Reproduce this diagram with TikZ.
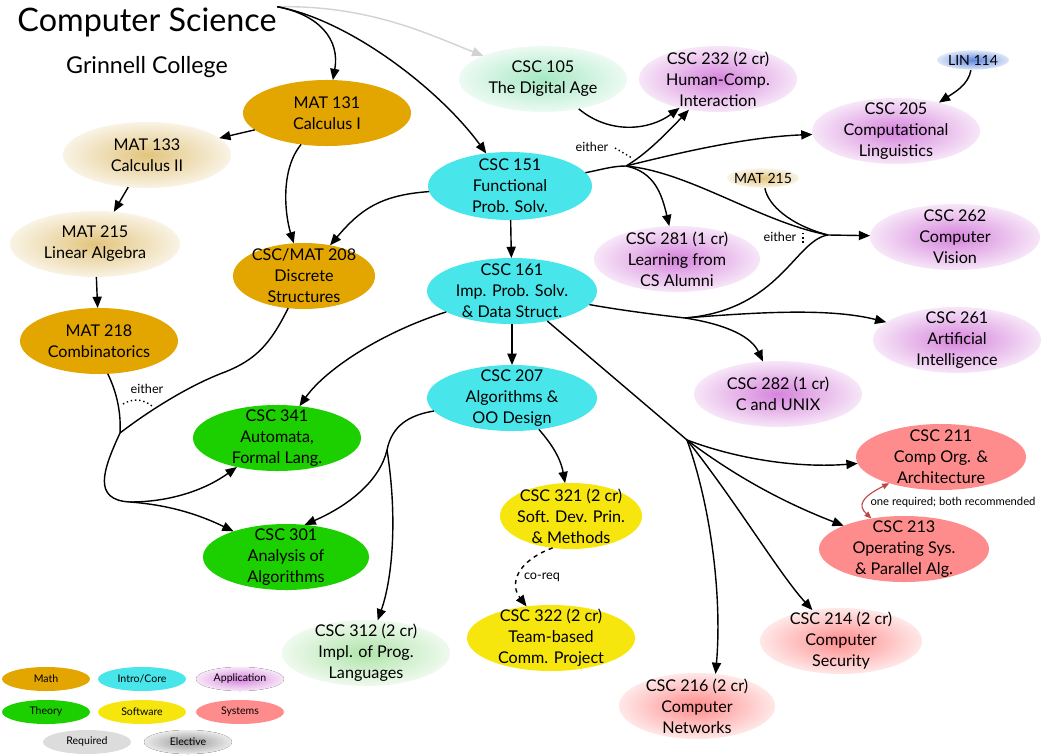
\documentclass[tikz,border=0pt]{standalone}
\usepackage{fontspec}
\setmainfont{Lato}
\usetikzlibrary{shapes.geometric,arrows.meta}

\definecolor{mathc}{RGB}{227,165,0}
\definecolor{introc}{RGB}{72,230,234}
\definecolor{appc}{RGB}{214,132,220}
\definecolor{theoc}{RGB}{28,208,0}
\definecolor{softc}{RGB}{246,230,14}
\definecolor{sysc}{RGB}{255,140,140}
\definecolor{mathe}{RGB}{226,196,125}
\definecolor{digc}{RGB}{165,232,195}
\definecolor{theoe}{RGB}{175,228,170}
\definecolor{linc}{RGB}{95,135,220}
\definecolor{reqc}{RGB}{220,220,220}
\definecolor{elecc}{RGB}{150,150,150}
\definecolor{pairc}{RGB}{190,70,70}

\makeatletter
\pgfdeclareradialshading[tikz@radial@inner,tikz@radial@outer]{elect}{\pgfpoint{0bp}{0bp}}{%
  color(0bp)=(tikz@radial@inner); color(25bp)=(tikz@radial@outer); color(50bp)=(tikz@radial@outer)}
\makeatother

\newcommand\coursefont{\fontsize{11.5}{14.9}\selectfont}
\newcommand\notefont{\fontsize{9}{10}\selectfont}
\newcommand\keyfont{\fontsize{7.5}{9}\selectfont}
\newcommand\smallfont{\fontsize{10}{12}\selectfont}

\begin{document}
\begin{tikzpicture}[x=0.025cm, y=-0.025cm, line width=1pt,
    >={Triangle[length=8pt,width=6.5pt]},
    course/.style={ellipse, inner xsep=-8pt, inner ysep=-8pt, outer sep=0pt,
      minimum width=4.2cm, minimum height=1.65cm, align=center, font=\coursefont},
    req/.style={course, fill=#1},
    elec/.style={course, inner color=#1, outer color=#1!20!white, shading=elect},
    tiny/.style={ellipse, inner xsep=-3pt, inner ysep=-2pt, minimum width=1.8cm,
      minimum height=0.48cm, font=\smallfont, inner color=#1, outer color=#1!20!white, shading=elect},
    key/.style={ellipse, inner sep=0pt, minimum width=2.2cm, minimum height=0.6cm,
      font=\keyfont, fill=#1},
    keyel/.style={key, inner color=#1, outer color=#1!20!white, shading=elect},
    note/.style={font=\notefont, inner sep=1pt}]

  \useasboundingbox (0,0) rectangle (1043,755);

  % titles
  \node[font=\fontsize{23}{27}\selectfont, inner sep=0pt] (title) at (147,22) {Computer Science};
  \node[font=\fontsize{16.5}{20}\selectfont] (college) at (147,67) {Grinnell College};

  % math
  \node[req=mathc] (m131) at (327,113) {MAT 131\\Calculus I};
  \node[elec=mathe] (m133) at (147,155) {MAT 133\\Calculus II};
  \node[elec=mathe, minimum width=4.25cm] (m215) at (95,244) {MAT 215\\Linear Algebra};
  \node[req=mathc, minimum width=3.95cm] (m218) at (99,341) {MAT 218\\Combinatorics};
  \node[req=mathc, minimum width=3.55cm] (m208) at (304,276) {CSC/MAT 208\\Discrete\\Structures};

  % intro / core
  \node[elec=digc] (c105) at (543,79) {CSC 105\\The Digital Age};
  \node[req=introc, minimum width=4.1cm, minimum height=1.7cm] (c151) at (510,186) {CSC 151\\Functional\\Prob. Solv.};
  \node[req=introc, minimum width=4.25cm] (c161) at (512,291) {CSC 161\\Imp. Prob. Solv.\\\& Data Struct.};
  \node[req=introc, minimum width=4.25cm] (c207) at (512,398) {CSC 207\\Algorithms \&\\OO Design};

  % applications
  \node[elec=appc, minimum width=3.95cm] (c232) at (718,79) {CSC 232 (2 cr)\\Human-Comp.\\Interaction};
  \node[tiny=linc] (lin) at (973,60) {LIN 114};
  \node[elec=appc] (c205) at (896,131) {CSC 205\\Computational\\Linguistics};
  \node[elec=appc, minimum width=4.15cm] (c281) at (677,259) {CSC 281 (1 cr)\\Learning from\\CS Alumni};
  \node[tiny=mathe] (m215s) at (763,178) {MAT 215};
  \node[elec=appc, minimum width=4.25cm] (c262) at (955,237) {CSC 262\\Computer\\Vision};
  \node[elec=appc] (c261) at (957,340) {CSC 261\\Artificial\\Intelligence};
  \node[elec=appc] (c282) at (778,394) {CSC 282 (1 cr)\\C and UNIX};

  % theory
  \node[req=theoc] (c341) at (277,438) {CSC 341\\Automata,\\Formal Lang.};
  \node[req=theoc, minimum width=4.15cm] (c301) at (286,557) {CSC 301\\Analysis of\\Algorithms};

  % software
  \node[req=softc, minimum width=3.55cm] (c321) at (571,516) {CSC 321 (2 cr)\\Soft. Dev. Prin.\\\& Methods};
  \node[req=softc] (c322) at (551,638) {CSC 322 (2 cr)\\Team-based\\Comm. Project};
  \node[elec=theoe] (c312) at (366,653) {CSC 312 (2 cr)\\Impl. of Prog.\\Languages};

  % systems
  \node[req=sysc, minimum width=4.25cm] (c211) at (941,457) {CSC 211\\Comp Org. \&\\Architecture};
  \node[req=sysc, minimum width=4.25cm] (c213) at (904,549) {CSC 213\\Operating Sys.\\\& Parallel Alg.};
  \node[elec=sysc, minimum width=4.05cm] (c214) at (841,641) {CSC 214 (2 cr)\\Computer\\Security};
  \node[elec=sysc, minimum width=3.9cm] (c216) at (697,706) {CSC 216 (2 cr)\\Computer\\Networks};

  % legend
  \node[key=mathc] (kmath) at (46,679) {Math};
  \node[key=introc] (kintro) at (142,679) {Intro/Core};
  \node[keyel=appc] (kapp) at (240,679) {Application};
  \node[key=theoc] (ktheo) at (46,712) {Theory};
  \node[key=softc] (ksoft) at (142,712) {Software};
  \node[key=sysc] (ksys) at (240,712) {Systems};
  \node[key=reqc] (kreq) at (87,742) {Required};
  \node[keyel=elecc] (kel) at (188,742) {Elective};

  % branch points
  \coordinate (j1) at (120,433);
  \coordinate (j2) at (130,502);
  \coordinate (b1) at (626,166);
  \coordinate (j3) at (828,235);
  \coordinate (b2) at (685,318);
  \coordinate (b3) at (687,440);
  \coordinate (b4) at (387,450);

  % from the title
  \draw[->, gray!35] (title.north east) .. controls (370,5) and (430,35) .. (c105);
  \draw[->] (title.north east) .. controls (320,15) and (340,40) .. (m131);
  \draw[->] (title.north east) .. controls (350,20) and (440,90) .. (c151);

  % math chain
  \draw[->] (m131) -- (m133);
  \draw[->] (m133) -- (m215);
  \draw[->] (m215) -- (m218);
  \draw[->] (m131) .. controls (280,170) and (285,215) .. (m208);
  \draw[->] (c151) .. controls (380,195) and (360,210) .. (m208);

  % theory either
  \draw (m218.-75) .. controls (118,395) and (121,415) .. (j1);
  \draw (m208) .. controls (270,345) and (255,360) .. (225,372)
    .. controls (190,385) and (150,410) .. (j1);
  \draw (j1) .. controls (103,470) and (92,500) .. (j2);
  \draw[->] (j2) .. controls (170,502) and (205,490) .. (c341);
  \draw[->] (j2) .. controls (170,505) and (200,515) .. (c301);
  \node[note] (e1) at (147,389) {either};
  \draw[dotted] (123,404) .. controls (133,398) and (143,399) .. (152,406);

  % core chain
  \draw[->] (c151) -- (c161);
  \draw[->] (c161) -- (c207);
  \draw[->] (c161) .. controls (380,333) and (325,370) .. (c341);

  % out of CSC 151
  \draw (c151.10) .. controls (600,170) and (612,166) .. (b1);
  \draw[->] (b1) .. controls (645,155) and (665,135) .. (c232);
  \draw[->] (c105) .. controls (610,135) and (650,130) .. (c232);
  \node[note] (e2) at (592,147) {either};
  \draw[dotted] (615,148) -- (632,158);
  \draw[->] (b1) .. controls (690,150) and (750,137) .. (c205);
  \draw[->] (b1) .. controls (655,172) and (662,195) .. (c281);
  \draw (b1) .. controls (690,172) and (760,222) .. (j3);
  \draw (m215s) .. controls (768,205) and (790,225) .. (j3);
  \draw[->] (lin) .. controls (968,85) and (955,92) .. (c205);

  % out of CSC 161
  \draw (c161) .. controls (620,310) and (650,314) .. (b2);
  \draw (b2) .. controls (780,310) and (795,240) .. (j3);
  \draw[->] (j3) -- (c262);
  \node[note] (e3) at (780,237) {either};
  \draw[dotted] (803,233) -- (803,245);
  \draw[->] (b2) .. controls (760,312) and (830,308) .. (c261);
  \draw[->] (b2) .. controls (730,325) and (752,338) .. (c282);

  % systems
  \draw (c161) -- (b3);
  \draw[->] (b3) .. controls (740,460) and (800,468) .. (c211);
  \draw[->] (b3) .. controls (740,480) and (790,505) .. (c213);
  \draw[->] (b3) .. controls (735,500) and (780,575) .. (c214);
  \draw[->] (b3) .. controls (712,510) and (722,600) .. (c216.60);
  \draw[<->, pairc, line width=0.8pt, >={Triangle[length=5pt,width=4pt]}]
    (c211) .. controls (862,497) and (857,505) .. (c213);
  \node[font=\fontsize{8}{9}\selectfont, inner sep=1pt] (both) at (953,502) {one required; both recommended};

  % out of CSC 207
  \draw (c207) .. controls (410,415) and (392,425) .. (b4);
  \draw[->] (b4) .. controls (380,480) and (350,505) .. (c301.60);
  \draw[->] (b4) .. controls (398,520) and (392,580) .. (c312);
  \draw[->] (c207) .. controls (548,440) and (560,455) .. (c321);
  \draw[->, dashed] (c321.-120) .. controls (515,562) and (510,585) .. (c322);
  \node[note] (coreq) at (542,577) {co-req};
\end{tikzpicture}
\end{document}
